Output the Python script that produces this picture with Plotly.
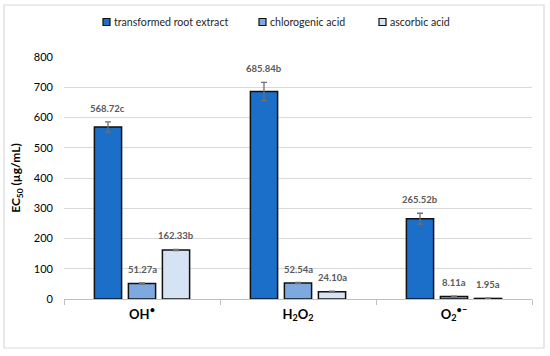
import plotly.graph_objects as go

categories = ["OH<sup>•</sup>", "H<sub>2</sub>O<sub>2</sub>", "O<sub>2</sub><sup>•−</sup>"]
series_names = ["transformed root extract", "chlorogenic acid", "ascorbic acid"]
extract_vals = [568.72, 685.84, 265.52]
extract_err = [17, 30, 18]
extract_letters = ["c", "b", "b"]
chloro_vals = [51.27, 52.54, 8.11]
chloro_err = [2, 2, 1]
chloro_letters = ["a", "a", "a"]
ascorbic_vals = [162.33, 24.10, 1.95]
ascorbic_err = [2, 2, 0.5]
ascorbic_letters = ["b", "a", "a"]
y_ticks = [0, 100, 200, 300, 400, 500, 600, 700, 800]

colors = ["#1B6FC8", "#7EA8E0", "#D5E3F5"]
series = [
    (extract_vals, extract_err, extract_letters),
    (chloro_vals, chloro_err, chloro_letters),
    (ascorbic_vals, ascorbic_err, ascorbic_letters),
]

W, H = 550, 356
ML, MR, MT, MB = 64, 18, 57, 57
PW, PH = W - ML - MR, H - MT - MB


def px2paper_x(px):
    return (px - ML) / PW


def px2paper_y(py):
    return (H - MB - py) / PH


fig = go.Figure()
for i, (vals, errs, letters) in enumerate(series):
    fig.add_trace(go.Bar(
        name=series_names[i], x=categories, y=vals,
        marker=dict(color=colors[i], line=dict(color="#111111", width=1.5)),
        error_y=dict(type="data", array=errs, visible=True, color="#6f6f6f", thickness=1.3, width=3),
        offsetgroup=str(i), showlegend=False,
    ))

# value labels
n = len(series)
slot = 1 - 0.346
for i, (vals, errs, letters) in enumerate(series):
    for j, (v, e, l) in enumerate(zip(vals, errs, letters)):
        off = (i - (n - 1) / 2) * slot / n
        fig.add_annotation(
            x=j + off, y=v + e, xref="x", yref="y",
            text=f"<b>{v:.2f}{l}</b>", showarrow=False,
            yanchor="bottom", yshift=6,
            font=dict(size=9.5, color="#595959", family="Lato"),
        )

# legend drawn manually (compact symbol-text spacing)
legend_sq_left = [103, 259, 379]
for i, name in enumerate(series_names):
    x0 = legend_sq_left[i]
    fig.add_shape(type="rect", xref="paper", yref="paper",
                  x0=px2paper_x(x0), x1=px2paper_x(x0 + 7),
                  y0=px2paper_y(25.5), y1=px2paper_y(18.5),
                  fillcolor=colors[i], line=dict(color="#111111", width=1.2))
    fig.add_annotation(x=px2paper_x(x0 + 9), y=px2paper_y(22), xref="paper", yref="paper",
                       text=name, showarrow=False, xanchor="left", yanchor="middle",
                       font=dict(size=10.6, color="#262626", family="Lato"))

# outer border
fig.add_shape(type="rect", xref="paper", yref="paper",
              x0=px2paper_x(4), x1=px2paper_x(544), y0=px2paper_y(348), y1=px2paper_y(5),
              line=dict(color="#D9D9D9", width=1.2), layer="below")

fig.update_layout(
    width=W, height=H,
    margin=dict(l=ML, r=MR, t=MT, b=MB, autoexpand=False),
    paper_bgcolor="white", plot_bgcolor="white",
    barmode="group", bargap=0.346, bargroupgap=0.2,
    font=dict(family="Lato", color="#000000"),
    showlegend=False,
    xaxis=dict(type="category", showgrid=False, showline=True, linecolor="#BFBFBF", linewidth=1,
               ticks="outside", tickson="boundaries", ticklen=5, tickcolor="#BFBFBF",
               tickfont=dict(size=13, color="#000000", family="Lato"), ticklabelstandoff=3),
    yaxis=dict(range=[0, 800], tickvals=y_ticks, showgrid=True, gridcolor="#D9D9D9", gridwidth=1,
               zeroline=False, showline=False,
               tickfont=dict(size=11, color="#000000", family="Lato"),
               ticklabelstandoff=10,
               title=dict(text="<b>EC<sub>50</sub> (µg/mL)</b>", font=dict(size=12, family="Lato"), standoff=10)),
)
fig.update_yaxes(tickprefix="<b>", ticksuffix="</b>")
fig.update_xaxes(tickprefix="<b>", ticksuffix="</b>")

fig.write_html("out.html", config={"displayModeBar": False},
               post_script="document.body.style.margin='0';document.body.style.overflow='hidden';")
